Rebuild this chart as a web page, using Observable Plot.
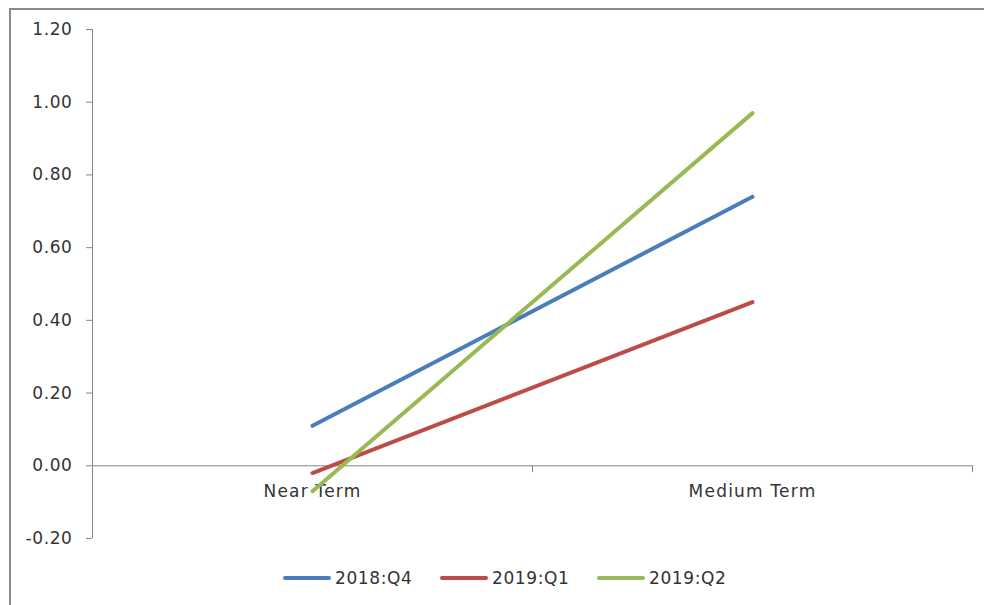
<!DOCTYPE html>
<html>
<head>
<meta charset="utf-8">
<script src="https://cdn.jsdelivr.net/npm/d3@7"></script>
<script src="https://cdn.jsdelivr.net/npm/@observablehq/plot@0.6"></script>
<style>
  html, body { margin: 0; padding: 0; background: #fff; }
  body { width: 984px; height: 605px; position: relative; overflow: hidden; font-family: "DejaVu Sans", sans-serif; }
  #frame { position: absolute; left: 9px; top: 8px; width: 1000px; height: 640px; border-top: 2px solid #8a8a8a; border-left: 2px solid #8a8a8a; box-sizing: border-box; }
  #chart { position: absolute; left: 0; top: 0; }
  #chart svg text { letter-spacing: 0.6px; }
  #chart svg g.cat text { letter-spacing: 1.2px; }
  #legend { position: absolute; left: 0; top: 566px; width: 984px; height: 24px; }
  .item { position: absolute; top: 0; height: 24px; display: flex; align-items: center; font-size: 17px; color: #333; letter-spacing: 0.6px; }
  .swatch { width: 48px; height: 4px; border-radius: 2px; margin-right: 4px; }
</style>
</head>
<body>
<div id="frame"></div>
<div id="chart"></div>
<div id="legend"></div>
<script>
const categories = ["Near Term", "Medium Term"];
const seriesNames = ["2018:Q4", "2019:Q1", "2019:Q2"];
const q4_2018 = [0.11, 0.74];
const q1_2019 = [-0.02, 0.45];
const q2_2019 = [-0.07, 0.97];
const colors = ["#4a7ebb", "#be4b48", "#98b954"];
const yTicks = [-0.2, 0, 0.2, 0.4, 0.6, 0.8, 1.0, 1.2];

const seriesValues = [q4_2018, q1_2019, q2_2019];
const data = [];
seriesNames.forEach((s, i) => {
  categories.forEach((c, j) => {
    data.push({series: s, idx: j + 0.5, category: c, value: seriesValues[i][j]});
  });
});
const catData = categories.map((c, j) => ({category: c, idx: j + 0.5}));
const boundaries = d3.range(categories.length + 1);
const fmt = d => d3.format(".2f")(d).replace("\u2212", "-");

const plot = Plot.plot({
  width: 984,
  height: 566,
  marginLeft: 92,
  marginRight: 12,
  marginTop: 29,
  marginBottom: 28,
  style: {fontFamily: "DejaVu Sans, sans-serif", fontSize: "17px", color: "#333", background: "transparent", overflow: "visible"},
  x: {type: "linear", domain: [0, categories.length], axis: null},
  y: {domain: [-0.2, 1.2], axis: null},
  color: {domain: seriesNames, range: colors},
  marks: [
    Plot.axisY({ticks: yTicks, tickFormat: fmt, tickSize: 6, tickPadding: 14, stroke: "#868686", fill: "#333", fontSize: 17, anchor: "left", label: null}),
    Plot.ruleX([0], {y1: -0.2, y2: 1.2, stroke: "#868686", strokeOpacity: 1}),
    Plot.ruleY([0], {x1: 0, x2: categories.length, stroke: "#868686", strokeOpacity: 1}),
    Plot.ruleX(boundaries, {x: d => d, y1: 0, y2: -0.019, stroke: "#868686", strokeOpacity: 1}),
    Plot.text(catData, {x: "idx", y: 0, text: "category", dy: 26, fill: "#333", fontSize: 17, className: "cat"}),
    Plot.line(data, {x: "idx", y: "value", z: "series", stroke: "series", strokeWidth: 4, strokeLinecap: "round"})
  ]
});
document.getElementById("chart").appendChild(plot);

const legend = document.getElementById("legend");
const starts = [283, 440, 597];
seriesNames.forEach((s, i) => {
  const item = document.createElement("div");
  item.className = "item";
  item.style.left = starts[i] + "px";
  const sw = document.createElement("div");
  sw.className = "swatch";
  sw.style.background = colors[i];
  const t = document.createElement("span");
  t.textContent = s;
  item.appendChild(sw);
  item.appendChild(t);
  legend.appendChild(item);
});
</script>
</body>
</html>
